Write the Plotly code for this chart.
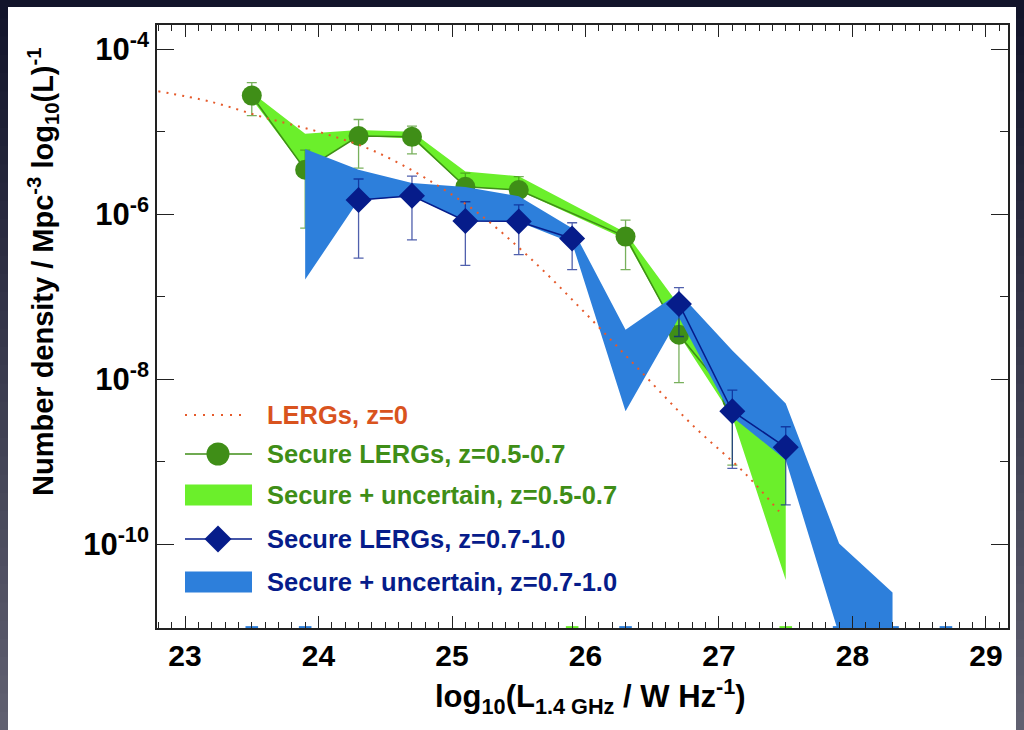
import plotly.graph_objects as go

# ---------------- data ----------------
# LERGs at z=0 (dotted reference curve)
lerg0_logL = [22.8, 23.2, 23.6, 24.0, 24.4, 24.8, 25.2, 25.6, 26.0, 26.4, 26.8, 27.2, 27.45]
lerg0_rho = [3.1e-5, 2.3e-5, 1.48e-5, 1.0e-5, 6.0e-6, 2.75e-6, 1.02e-6, 2.8e-7, 6.3e-8,
             1.32e-8, 2.8e-9, 7.1e-10, 2.5e-10]

# Secure LERGs, z=0.5-0.7
green_logL = [23.5, 23.9, 24.3, 24.7, 25.1, 25.5, 25.9, 26.3, 26.7, 27.1]
green_rho = [2.75e-5, 3.47e-6, 8.9e-6, 8.7e-6, 2.16e-6, 1.97e-6, None, 5.37e-7, 3.47e-8, 5.6e-9]
green_upper = [3.94e-5, 6.0e-6, 1.41e-5, 1.17e-5, 3.16e-6, 2.86e-6, None, 8.5e-7, 6.3e-8, 1.0e-8]
green_lower = [1.57e-5, 6.8e-7, 3.63e-6, 5.4e-6, 1.41e-6, 1.26e-6, None, 2.14e-7, 9.1e-9, 9.1e-10]

# Secure + uncertain, z=0.5-0.7 (band)
gband_logL = [23.5, 23.9, 24.3, 24.7, 25.1, 25.5, 26.3, 26.7, 27.1, 27.5]
gband_hi = [3.0e-5, 9.5e-6, 1.05e-5, 1.0e-5, 3.3e-6, 2.9e-6, 6.0e-7, 7.9e-8, 7.9e-9, 1.8e-9]
gband_lo = [2.5e-5, 3.47e-6, 8.9e-6, 8.3e-6, 2.14e-6, 1.95e-6, 5.0e-7, 3.47e-8, 3.5e-9, 3.7e-11]

# Secure LERGs, z=0.7-1.0
blue_logL = [24.3, 24.7, 25.1, 25.5, 25.9, 26.3, 26.7, 27.1, 27.5]
blue_rho = [1.49e-6, 1.68e-6, 8.3e-7, 8.2e-7, 5.1e-7, None, 8.2e-8, 4.1e-9, 1.5e-9]
blue_upper = [2.68e-6, 2.91e-6, 1.42e-6, 1.30e-6, 7.9e-7, None, 1.29e-7, 7.4e-9, 2.66e-9]
blue_lower = [2.95e-7, 4.9e-7, 2.4e-7, 3.24e-7, 2.14e-7, None, 3.3e-8, 8.3e-10, 3.0e-10]

# Secure + uncertain, z=0.7-1.0 (band)
bband_logL = [23.9, 24.3, 24.7, 25.1, 25.5, 25.9, 26.3, 26.7, 27.1, 27.5, 27.9, 28.3]
bband_hi = [6.2e-6, 3.47e-6, 2.4e-6, 2.14e-6, 1.66e-6, 6.8e-7, 4.0e-8, 1.12e-7, 2.24e-8,
            5.1e-9, 1.02e-10, 2.6e-11]
bband_lo = [1.62e-7, 1.48e-6, 1.66e-6, 8.3e-7, 8.1e-7, 4.5e-7, 4.1e-9, 5.6e-8, 3.5e-9,
            1.05e-9, 8e-12, 8e-12]

# empty bins (zero density, drawn on the lower axis)
green_zero_logL = [25.9, 27.5]
blue_zero_logL = [23.5, 23.9, 26.3, 27.9, 28.3, 28.7]
zero_floor = 9.9e-12

x_ticks = [23, 24, 25, 26, 27, 28, 29]
y_ticks = [1e-4, 1e-6, 1e-8, 1e-10]
y_ticktext = ["10<sup>-4</sup>", "10<sup>-6</sup>", "10<sup>-8</sup>", "10<sup>-10</sup>"]
y_minor = [1e-5, 1e-7, 1e-9]

# ---------------- styles ----------------
RED = "#E55A2B"
GREEN = "#3F8E17"
LIME = "#6BEF2B"
NAVY = "#061C8A"
BLUE = "#2D7FDB"
FONT = "Liberation Sans, Arial, Helvetica, sans-serif"

# plot-area geometry (px)
L, R, T, B = 157, 16, 25, 102
W, H = 1024, 730
PW, PH = W - L - R, H - T - B


def PX(px):
    return (px - L) / PW


def PY(py):
    return (H - B - py) / PH


def band(xs, hi, lo):
    return list(xs) + list(xs)[::-1], list(hi) + list(lo)[::-1]


def err(vals, up, lo):
    plus = [None if v is None else u - v for v, u in zip(vals, up)]
    minus = [None if v is None else v - l for v, l in zip(vals, lo)]
    return plus, minus


fig = go.Figure()

gx, gy = band(gband_logL, gband_hi, gband_lo)
fig.add_trace(go.Scatter(x=gx, y=gy, fill="toself", fillcolor=LIME, mode="lines",
                         line=dict(width=0, color=LIME), hoverinfo="skip"))

gp, gm = err(green_rho, green_upper, green_lower)
fig.add_trace(go.Scatter(x=green_logL, y=green_rho, mode="lines+markers", connectgaps=True,
                         line=dict(color=GREEN, width=1.5),
                         marker=dict(symbol="circle", size=20, color=GREEN),
                         error_y=dict(type="data", array=gp, arrayminus=gm, color="rgba(63,142,23,0.7)",
                                      thickness=1.3, width=5),
                         hoverinfo="skip"))

bx, by = band(bband_logL, bband_hi, bband_lo)
fig.add_trace(go.Scatter(x=bx, y=by, fill="toself", fillcolor=BLUE, mode="lines",
                         line=dict(width=0, color=BLUE), hoverinfo="skip"))

bp, bm = err(blue_rho, blue_upper, blue_lower)
fig.add_trace(go.Scatter(x=blue_logL, y=blue_rho, mode="lines+markers", connectgaps=False,
                         line=dict(color=NAVY, width=1.5),
                         marker=dict(symbol="diamond", size=20, color=NAVY),
                         error_y=dict(type="data", array=bp, arrayminus=bm, color="rgba(6,28,138,0.7)",
                                      thickness=1.3, width=5),
                         hoverinfo="skip"))

fig.add_trace(go.Scatter(x=lerg0_logL, y=lerg0_rho, mode="lines",
                         line=dict(color=RED, width=2, dash="2px,6px", shape="spline"),
                         hoverinfo="skip"))

fig.add_trace(go.Scatter(x=green_zero_logL, y=[zero_floor] * len(green_zero_logL), mode="markers",
                         marker=dict(symbol="line-ew", size=9, line=dict(color=LIME, width=2)),
                         cliponaxis=False, hoverinfo="skip"))
fig.add_trace(go.Scatter(x=blue_zero_logL, y=[zero_floor] * len(blue_zero_logL), mode="markers",
                         marker=dict(symbol="line-ew", size=9, line=dict(color=BLUE, width=2)),
                         cliponaxis=False, hoverinfo="skip"))

# ---------------- background ----------------
shapes = []
top_c = (18, 20, 42)
bot_c = (96, 96, 112)
n = 40
for i in range(n):
    f = i / (n - 1)
    c = tuple(int(round(top_c[k] + (bot_c[k] - top_c[k]) * f)) for k in range(3))
    y0 = H * i / n
    y1 = H * (i + 1) / n + 1
    shapes.append(dict(type="rect", xref="paper", yref="paper", x0=PX(0), x1=PX(W),
                       y0=PY(y1), y1=PY(y0), line=dict(width=0),
                       fillcolor="rgb(%d,%d,%d)" % c, layer="below"))
shapes.append(dict(type="rect", xref="paper", yref="paper", x0=PX(8), x1=PX(1016),
                   y0=PY(740), y1=PY(7), line=dict(width=0), fillcolor="white", layer="below"))

# ---------------- legend (manual) ----------------
ann = []
leg_x0, leg_x1, leg_xc, text_x = 185, 252, 218, 265
rows = [415, 454, 495, 539, 582]
labels = ["LERGs, z=0", "Secure LERGs, z=0.5-0.7", "Secure + uncertain, z=0.5-0.7",
          "Secure LERGs, z=0.7-1.0", "Secure + uncertain, z=0.7-1.0"]
label_colors = ["#D9531E", GREEN, GREEN, NAVY, NAVY]

shapes.append(dict(type="line", xref="paper", yref="paper", x0=PX(leg_x0), x1=PX(247),
                   y0=PY(rows[0]), y1=PY(rows[0]), line=dict(color=RED, width=2, dash="2px,7px")))
shapes.append(dict(type="line", xref="paper", yref="paper", x0=PX(leg_x0), x1=PX(leg_x1),
                   y0=PY(rows[1]), y1=PY(rows[1]), line=dict(color=GREEN, width=1.3)))
r = 11.5
shapes.append(dict(type="circle", xref="paper", yref="paper", x0=PX(leg_xc - r), x1=PX(leg_xc + r),
                   y0=PY(rows[1] + r), y1=PY(rows[1] - r), fillcolor=GREEN, line=dict(width=0)))
shapes.append(dict(type="rect", xref="paper", yref="paper", x0=PX(leg_x0), x1=PX(leg_x1),
                   y0=PY(rows[2] + 10.5), y1=PY(rows[2] - 10.5), fillcolor=LIME, line=dict(width=0)))
shapes.append(dict(type="line", xref="paper", yref="paper", x0=PX(leg_x0), x1=PX(leg_x1),
                   y0=PY(rows[3]), y1=PY(rows[3]), line=dict(color=NAVY, width=1.3)))
d = 13.5
yc = rows[3]
path = "M %f,%f L %f,%f L %f,%f L %f,%f Z" % (PX(leg_xc - d), PY(yc), PX(leg_xc), PY(yc - d),
                                               PX(leg_xc + d), PY(yc), PX(leg_xc), PY(yc + d))
shapes.append(dict(type="path", xref="paper", yref="paper", path=path, fillcolor=NAVY, line=dict(width=0)))
shapes.append(dict(type="rect", xref="paper", yref="paper", x0=PX(leg_x0), x1=PX(leg_x1),
                   y0=PY(rows[4] + 10.5), y1=PY(rows[4] - 10.5), fillcolor=BLUE, line=dict(width=0)))

for yy, lab, col in zip(rows, labels, label_colors):
    ann.append(dict(xref="paper", yref="paper", x=PX(text_x), y=PY(yy), xanchor="left", yanchor="middle",
                    text=lab, showarrow=False,
                    font=dict(family=FONT, size=25.5, color=col, weight="bold")))

# axis titles
ann.append(dict(xref="paper", yref="paper", x=PX(590), y=PY(696), xanchor="center", yanchor="middle",
                text="log<sub>10</sub>(L<sub>1.4 GHz</sub> / W Hz<sup>-1</sup>)", showarrow=False,
                font=dict(family=FONT, size=31, color="black", weight="bold")))
ann.append(dict(xref="paper", yref="paper", x=PX(43), y=PY(272), xanchor="center", yanchor="middle",
                textangle=-90,
                text="Number density / Mpc<sup>-3</sup> log<sub>10</sub>(L)<sup>-1</sup>", showarrow=False,
                font=dict(family=FONT, size=29, color="black", weight="bold")))

fig.update_layout(
    width=W, height=H, margin=dict(l=L, r=R, t=T, b=B, pad=0),
    paper_bgcolor="rgb(18,20,42)", plot_bgcolor="white", showlegend=False,
    font=dict(family=FONT), shapes=shapes, annotations=ann,
    xaxis=dict(range=[22.79, 29.165], tickmode="array", tickvals=x_ticks,
               ticks="inside", ticklen=12, tickwidth=1.2, tickcolor="#222",
               showline=True, linecolor="#222", linewidth=1.6, mirror="ticks",
               showgrid=False, zeroline=False,
               tickfont=dict(family=FONT, size=30, color="black", weight="bold"),
               minor=dict(dtick=0.1, tick0=23, ticks="inside", ticklen=6, tickwidth=1, tickcolor="#222",
                          showgrid=False)),
    yaxis=dict(type="log", range=[-11.015, -3.705], tickmode="array", tickvals=y_ticks,
               ticktext=y_ticktext, ticks="inside", ticklen=17, tickwidth=1.2, tickcolor="#222",
               showline=True, linecolor="#222", linewidth=1.6, mirror="ticks",
               showgrid=False, zeroline=False,
               tickfont=dict(family=FONT, size=31, color="black", weight="bold"),
               minor=dict(tickmode="array", tickvals=y_minor, ticks="inside", ticklen=8, tickwidth=1.2,
                          tickcolor="#222", showgrid=False)),
)

fig.write_html("out.html")
